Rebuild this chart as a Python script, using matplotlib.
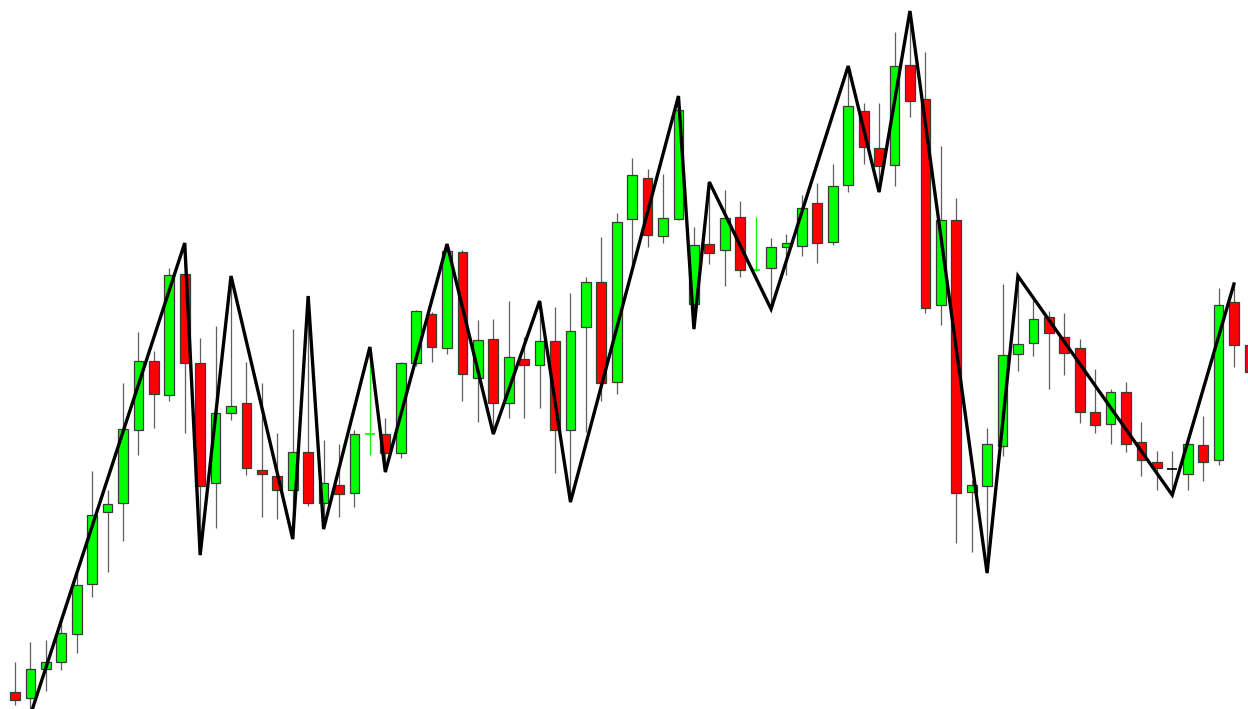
import numpy as np
import matplotlib
matplotlib.use("Agg")
import matplotlib.pyplot as plt

# OHLC levels (no price axis shown, so units are arbitrary points)
opens  = [17, 11, 40, 47, 75, 125, 197, 206, 279, 348, 314, 435, 346, 226, 296, 306, 239, 233, 219, 257,
          206, 224, 216, 275, 275, 256, 346, 395, 361, 457, 331, 370, 306, 350, 344, 368, 279, 382, 427, 327,
          490, 531, 473, 490, 405, 465, 459, 492, 439, 441, 462, 463, 506, 467, 524, 598, 561, 544, 644, 610,
          404, 489, 217, 223, 263, 355, 366, 392, 372, 361, 297, 285, 317, 267, 247, 240, 235, 264, 249, 407,
          364]
highs  = [47, 67, 69, 92, 136, 238, 219, 326, 377, 358, 441, 466, 371, 383, 433, 347, 326, 276, 380, 413,
          269, 265, 279, 362, 291, 347, 399, 397, 465, 459, 389, 390, 408, 372, 408, 402, 416, 432, 472, 496,
          551, 540, 535, 613, 482, 527, 519, 508, 492, 471, 475, 514, 526, 545, 643, 606, 606, 677, 698, 657,
          563, 511, 229, 281, 425, 433, 409, 398, 396, 370, 340, 320, 327, 287, 258, 258, 269, 293, 421, 425,
          379]
lows   = [4, -6, 18, 39, 56, 112, 137, 168, 254, 281, 308, 276, 154, 181, 289, 234, 192, 190, 170, 203,
          180, 192, 202, 254, 237, 251, 343, 347, 355, 308, 287, 275, 291, 291, 301, 236, 207, 277, 308, 315,
          443, 462, 466, 489, 380, 445, 423, 432, 438, 400, 434, 453, 446, 464, 517, 545, 517, 523, 592, 396,
          384, 166, 157, 136, 253, 338, 353, 320, 334, 286, 276, 265, 257, 233, 219, 214, 219, 228, 244, 342,
          319]
closes = [9, 40, 47, 76, 124, 194, 205, 280, 348, 315, 434, 346, 223, 296, 303, 241, 235, 219, 257, 206,
          226, 215, 275, 275, 256, 346, 398, 362, 458, 335, 369, 306, 352, 344, 368, 279, 378, 427, 326, 487,
          534, 474, 491, 599, 464, 456, 491, 439, 439, 462, 466, 501, 466, 523, 603, 562, 543, 643, 608, 401,
          489, 216, 224, 265, 354, 365, 390, 376, 356, 297, 284, 317, 265, 249, 241, 240, 265, 247, 404, 364,
          337]

# zigzag swing bars (alternating low / high, starting with a low)
zz_bars = [1, 11, 12, 14, 18, 19, 20, 23, 24, 28, 31, 34, 36, 43, 44, 45, 49, 54, 56, 58, 63, 65, 75, 79]
doji_light = [23, 48]

o = np.array(opens); h = np.array(highs); l = np.array(lows); c = np.array(closes)
x = np.arange(len(o))

fig = plt.figure(figsize=(12.48, 7.09), dpi=100)
ax = fig.add_axes([0, 0, 1, 1])

wick_col = ["#00ff00" if i in doji_light else "#5f5f5f" for i in x]
ax.vlines(x, l, h, colors=wick_col, linewidth=0.9, zorder=1)

up = c > o
down = c < o
w = 0.63
ax.bar(x[up], (c - o)[up], bottom=o[up], width=w, color="#00ff00", edgecolor="#3a3a3a",
       linewidth=0.9, zorder=2)
ax.bar(x[down], (o - c)[down], bottom=c[down], width=w, color="#ff0000", edgecolor="#3a3a3a",
       linewidth=0.9, zorder=2)

flat = np.where(c == o)[0]
for i in flat:
    col = "#00ff00" if i in doji_light else "#000000"
    ax.hlines(o[i], i - w / 2, i + w / 2, colors=col, linewidth=1.2, zorder=2)

zz_vals = [l[b] if k % 2 == 0 else h[b] for k, b in enumerate(zz_bars)]
ax.plot(zz_bars, zz_vals, color="black", linewidth=2.4, zorder=3, solid_joinstyle="miter")

ax.set_xlim(-0.972, 79.91)
ax.set_ylim(0, 709)
ax.axis("off")

fig.savefig("out.png", dpi=100, facecolor="white")
